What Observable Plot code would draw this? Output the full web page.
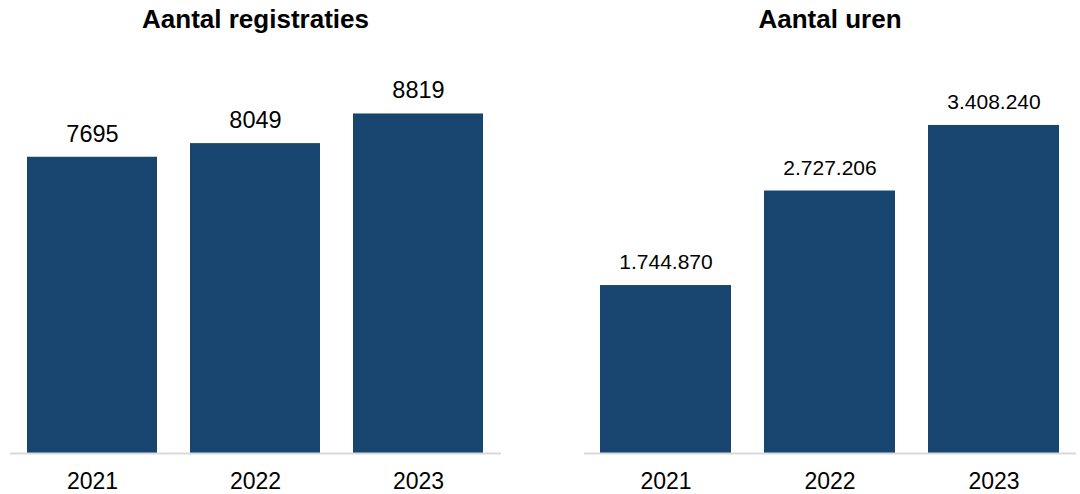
<!DOCTYPE html>
<html><head><meta charset="utf-8">
<script src="https://cdn.jsdelivr.net/npm/d3@7"></script>
<script src="https://cdn.jsdelivr.net/npm/@observablehq/plot@0.6"></script>
<style>
body{margin:0;background:#fff;font-family:"Liberation Sans",Arial,sans-serif}
#wrap{position:relative;width:1080px;height:494px;overflow:hidden}
.panel{position:absolute;top:0;width:540px;height:494px}
.title{position:absolute;top:6px;font-weight:bold;font-size:26px;line-height:1;text-align:center;color:#000}
.chart{position:absolute;top:40px;left:0}
</style></head>
<body>
<div id="wrap">
  <div class="panel" id="p1" style="left:0"><div class="title" style="left:10px;width:491px">Aantal registraties</div><div class="chart"></div></div>
  <div class="panel" id="p2" style="left:540px"><div class="title" style="left:44px;width:492px">Aantal uren</div><div class="chart"></div></div>
</div>
<script>
const years = ["2021", "2022", "2023"];
const registraties = [7695, 8049, 8819];
const uren = [1744870, 2727206, 3408240];

const nl = d3.formatLocale({decimal: ",", thousands: ".", grouping: [3], currency: ["€", ""]});
const fmtNL = nl.format(",d");
const barColor = "#17456f";

function panel(values, yMax, fmt, labelSize, mLeft, mRight) {
  const data = years.map((y, i) => ({year: y, value: values[i]}));
  return Plot.plot({
    width: 540,
    height: 454,
    marginTop: 28,
    marginBottom: 41,
    marginLeft: mLeft,
    marginRight: mRight,
    style: {fontFamily: "'Liberation Sans', Arial, sans-serif", fontSize: "23px", color: "#000", background: "transparent"},
    x: {domain: years, paddingInner: 0.2, paddingOuter: 0.1, label: null},
    y: {domain: [0, yMax], axis: null},
    marks: [
      Plot.barY(data, {x: "year", y: "value", fill: barColor}),
      Plot.ruleY([0], {stroke: "#d9d9d9", strokeWidth: 2}),
      Plot.text(data, {x: "year", y: "value", text: d => fmt(d.value), dy: -23, fontSize: labelSize, fill: "#000"}),
      Plot.axisX({tickSize: 0, tickPadding: 19, fontSize: 23, label: null, color: "#000"})
    ]
  });
}

document.querySelector("#p1 .chart").append(panel(registraties, 10000, v => String(v), 23.5, 10, 39));
document.querySelector("#p2 .chart").append(panel(uren, 4000000, fmtNL, 21, 44, 4));
</script>
</body></html>
